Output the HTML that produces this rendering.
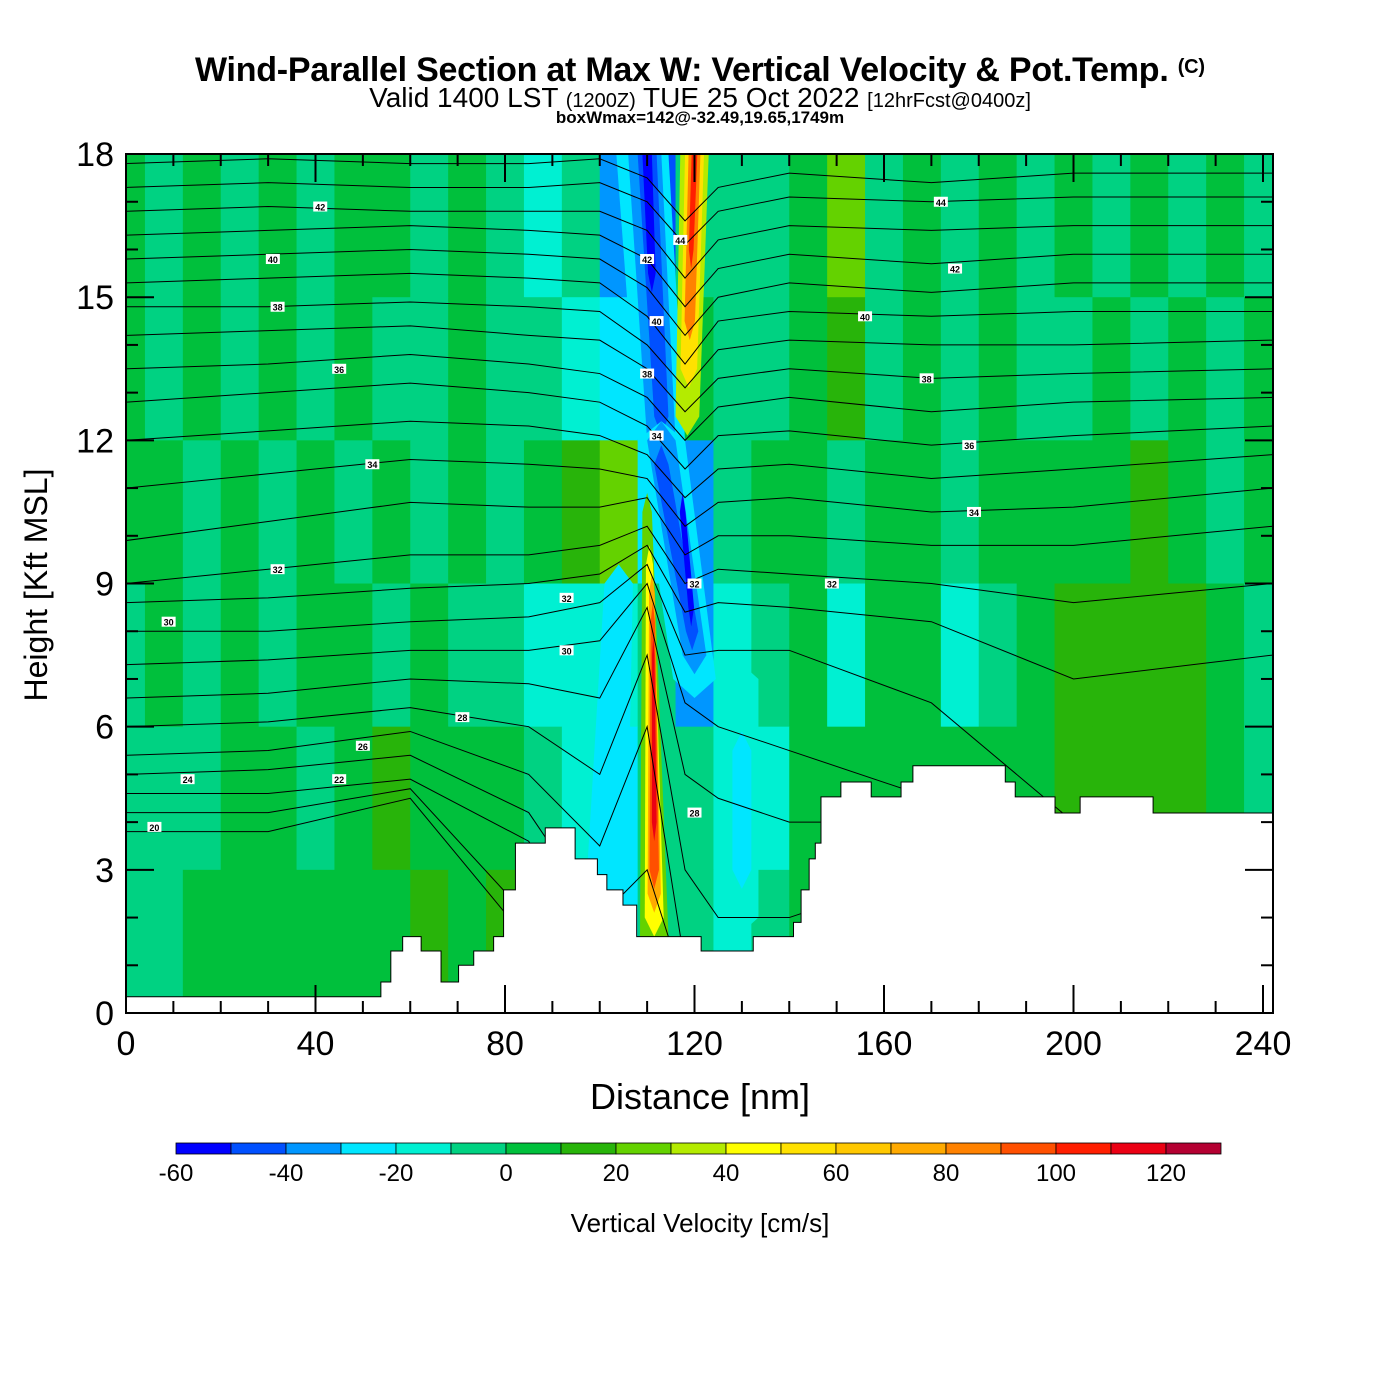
<!DOCTYPE html>
<html><head><meta charset="utf-8"><style>
html,body{margin:0;padding:0;background:#fff;}
svg{display:block;font-family:"Liberation Sans",Arial,sans-serif;}
</style></head><body>
<svg id="chart" width="1400" height="1400" viewBox="0 0 1400 1400">
<defs><clipPath id="plotclip"><rect x="126" y="154" width="1147" height="859"/></clipPath></defs>
<text x="700" y="81" text-anchor="middle" font-size="34" font-weight="bold" textLength="1010">Wind-Parallel Section at Max W: Vertical Velocity &amp; Pot.Temp. <tspan font-size="20" dy="-8">(C)</tspan></text>
<text x="700" y="107" text-anchor="middle" font-size="28">Valid 1400 LST <tspan font-size="20">(1200Z)</tspan> TUE 25 Oct 2022 <tspan font-size="20">[12hrFcst@0400z]</tspan></text>
<text x="700" y="123" text-anchor="middle" font-size="17" font-weight="bold">boxWmax=142@-32.49,19.65,1749m</text>
<g id="field" clip-path="url(#plotclip)"></g>
<g id="contours" clip-path="url(#plotclip)"></g>
<g id="terrain" clip-path="url(#plotclip)"></g>
<g id="clabels"></g>
<g id="axes"></g>
<text x="700" y="1109" text-anchor="middle" font-size="36">Distance [nm]</text>
<text transform="translate(47,585) rotate(-90)" text-anchor="middle" font-size="32">Height [Kft MSL]</text>
<g id="colorbar"></g>
<text x="700" y="1232" text-anchor="middle" font-size="26">Vertical Velocity [cm/s]</text>
</svg>
<script>
// ---- data ----
const levelValues=[-60,-50,-40,-30,-20,-10,0,10,20,30,40,50,60,70,80,90,100,110,120];
const levelColors=["#0000ff","#0050ff","#0096ff","#00e6ff","#00f0d2","#00d282","#00c03c","#28b40a","#64d200","#b4eb00","#ffff00","#ffe100","#ffc800","#ffaa00","#ff8200","#ff5000","#ff1e00","#eb0014","#b40032"];
const colorbarLabels=[-60,-40,-20,0,20,40,60,80,100,120];
const gridColCenters=[0,8,16,24,32,40,48,56,64,72,80,88,96,104,112,120,128,136,144,152,160,168,176,184,192,200,208,216,224,232,240];
const gridRowTops=[18,15,12,9,6,3];
const row0=[6,5,6,5,6,5,6,6,5,6,5,4,5,2,1,5,5,5,6,8,5,6,5,6,5,6,5,6,5,6,5];
const row1=[6,5,6,5,6,5,6,5,5,6,5,5,4,3,2,6,5,5,6,7,5,6,5,6,5,5,6,5,6,5,6];
const row2=[6,6,5,6,5,6,5,6,5,6,5,6,7,8,3,2,5,6,6,5,6,6,5,6,6,6,6,7,6,5,6];
const row3=[5,6,5,6,5,6,6,5,6,5,5,4,4,4,5,2,4,5,6,4,6,6,4,5,6,7,7,7,7,6,5];
const row4=[5,5,5,6,6,5,6,7,6,6,6,5,4,3,5,5,4,4,6,6,6,6,6,6,6,7,7,7,7,6,5];
const row5=[5,5,6,6,6,6,6,6,7,6,7,5,4,3,5,5,4,5,6,6,6,6,6,6,6,6,6,6,6,6,6];
const gridRows=[row0,row1,row2,row3,row4,row5];
// streak overlays
const streakLevel=[3,4,3,3,2,1,0,3,2,1,0,8,10,13,15,17,9,11,14,16];
const streakHBot=[1.6,2.0,3.0,12,12,12.5,15.5,7,7.5,8,8.5,1.6,2.0,2.5,3.0,4.0,12.5,13.5,14.5,16];
const streakHTop=[9,7,5.5,18,18,18,18,12,12,11.5,10.5,10.5,9.4,8.8,8.2,7.5,18,18,18,18];
const streakXBot=[101,129,130,113,113,113,111,120,120,119.5,119.3,111.5,111.5,111.5,111.5,111.5,118.5,118.8,119,119.3];
const streakXTop=[104,129,130,109,109.5,110,110,113,113,113,117.5,110,110.5,111,111.2,111.3,120,120,120,120];
const streakWBot=[9,9,4,10,6,3,1.6,9,5,2.6,1.2,6,4,2.8,2,1,5,3.5,2.2,1];
const streakWTop=[6,9,4,11,7,4,2,10,6,3,1.2,2,1.5,1.2,0.9,0.5,6,4,2.5,1.2];
// terrain (nm start, height kft)
const terrainX=[0,53.8,55.9,58.4,62.3,66.5,70.2,73.4,77.6,79.7,82.2,88.5,94.8,99.5,101.5,104.9,107.8,110.4,121.4,132.4,140.9,142.5,144.2,145.5,146.7,148.4,150.9,157.3,163.6,166.1,174.2,185.6,187.7,196.1,201.4,216.8,242];
const terrainH=[0.34,0.65,1.3,1.6,1.3,0.65,1.0,1.3,1.6,2.58,3.56,3.88,3.23,2.9,2.58,2.26,1.6,1.6,1.3,1.6,1.9,2.58,3.23,3.56,4.53,4.53,4.84,4.53,4.84,5.18,5.18,4.84,4.53,4.19,4.53,4.19,4.53];
// theta contours
const thetaNodes=[0,30,60,85,100,110,118,125,140,170,200,242];
const thetaValues=[45,44,43,42,41,40,39,38,37,36,35,34,33,32,31,30,29,28,27,26,25,24,23,22];
const thetaH45=[17.8,17.9,17.8,17.8,17.9,17.5,16.6,17.3,17.6,17.4,17.6,17.6];
const thetaH44=[17.3,17.4,17.3,17.3,17.4,17.0,16.1,16.8,17.1,17.0,17.1,17.1];
const thetaH43=[16.8,16.9,16.8,16.8,16.8,16.4,15.4,16.2,16.5,16.4,16.5,16.5];
const thetaH42=[16.3,16.4,16.5,16.4,16.3,15.8,14.8,15.6,15.9,15.7,15.9,15.9];
const thetaH41=[15.8,15.9,16.0,15.9,15.8,15.2,14.2,15.0,15.3,15.1,15.3,15.3];
const thetaH40=[15.3,15.4,15.5,15.4,15.3,14.6,13.6,14.5,14.7,14.6,14.7,14.7];
const thetaH39=[14.8,14.8,14.9,14.8,14.7,14.0,13.1,13.9,14.1,14.0,14.0,14.1];
const thetaH38=[14.2,14.3,14.4,14.2,14.1,13.5,12.6,13.3,13.5,13.3,13.4,13.5];
const thetaH37=[13.5,13.6,13.8,13.6,13.4,12.9,12.0,12.7,12.9,12.6,12.8,12.9];
const thetaH36=[12.8,13.0,13.2,13.0,12.8,12.3,11.4,12.1,12.2,11.9,12.1,12.3];
const thetaH35=[12.0,12.2,12.4,12.3,12.1,11.7,10.8,11.4,11.5,11.2,11.4,11.7];
const thetaH34=[11.0,11.3,11.6,11.5,11.4,11.2,10.2,10.7,10.8,10.5,10.6,11.0];
const thetaH33=[9.9,10.3,10.7,10.6,10.6,10.8,9.6,10.0,10.0,9.8,9.8,10.2];
const thetaH32=[9.0,9.3,9.6,9.6,9.8,10.2,9.0,9.3,9.2,9.0,8.6,9.0];
const thetaH31=[8.6,8.7,8.9,9.0,9.2,9.8,8.4,8.6,8.5,8.2,7.0,7.5];
const thetaH30=[8.0,8.0,8.2,8.3,8.6,9.4,7.5,7.6,7.6,6.5,4.0,4.0];
const thetaH29=[7.3,7.4,7.6,7.6,7.8,9.0,6.5,6.0,5.5,4.5,3.5,3.5];
const thetaH28=[6.6,6.7,7.0,6.9,6.6,8.5,5.0,4.5,4.0,4.0,3.5,3.5];
const thetaH27=[6.0,6.1,6.4,6.0,5.0,7.5,3.0,2.0,2.0,3.0,3.0,3.0];
const thetaH26=[5.4,5.5,5.9,5.0,3.5,6.0,1.0,1.0,1.0,1.0,1.0,1.0];
const thetaH25=[5.0,5.1,5.4,4.2,2.0,3.0,0.5,0.5,0.5,0.5,0.5,0.5];
const thetaH24=[4.6,4.6,4.9,3.6,1.0,1.0,0.5,0.5,0.5,0.5,0.5,0.5];
const thetaH23=[4.2,4.2,4.7,2.0,0.5,0.5,0.5,0.5,0.5,0.5,0.5,0.5];
const thetaH22=[3.8,3.8,4.5,1.5,0.5,0.5,0.5,0.5,0.5,0.5,0.5,0.5];
const thetaHeights=[thetaH45,thetaH44,thetaH43,thetaH42,thetaH41,thetaH40,thetaH39,thetaH38,thetaH37,thetaH36,thetaH35,thetaH34,thetaH33,thetaH32,thetaH31,thetaH30,thetaH29,thetaH28,thetaH27,thetaH26,thetaH25,thetaH24,thetaH23,thetaH22];
const labelText=["42","40","38","36","34","32","30","28","26","24","22","20","44","42","40","38","36","34","32","32","30","44","42","40","38","34","32","28"];
const labelX=[41,31,32,45,52,32,9,71,50,13,45,6,172,175,156,169,178,179,149,93,93,117,110,112,110,112,120,120];
const labelH=[16.9,15.8,14.8,13.5,11.5,9.3,8.2,6.2,5.6,4.9,4.9,3.9,17.0,15.6,14.6,13.3,11.9,10.5,9.0,8.7,7.6,16.2,15.8,14.5,13.4,12.1,9.0,4.2];
// ---- scales ----
const X=nm=>126+nm*4.7375;
const Y=h=>1013-h*47.72;
const NS="http://www.w3.org/2000/svg";
function mk(tag,parent){const e=document.createElementNS(NS,tag);parent.appendChild(e);return e;}
// field
const field=document.getElementById('field');
const bg=mk('rect',field);


bg.setAttribute('x',126);bg.setAttribute('y',154);bg.setAttribute('width',1147);bg.setAttribute('height',859);bg.setAttribute('fill',levelColors[5]);
gridRows.forEach((row,ri)=>{
  row.forEach((lv,ci)=>{
    const r=mk('rect',field);
    
    
    const x0=X(gridColCenters[ci]-4),x1=X(gridColCenters[ci]+4);
    const y0=Y(gridRowTops[ri]),y1=Y(gridRowTops[ri]-3);
    r.setAttribute('x',x0);r.setAttribute('y',y0);r.setAttribute('width',x1-x0+0.5);r.setAttribute('height',y1-y0+0.5);
    r.setAttribute('fill',levelColors[lv]);
  });
});
streakLevel.forEach((lv,i)=>{
  const p=mk('polygon',field);
  
  
  const xb=streakXBot[i],xt=streakXTop[i],wb=streakWBot[i]/2,wt=streakWTop[i]/2;
  const hb=streakHBot[i],ht=streakHTop[i];
  const pts=[[X(xb-wb),Y(hb)],[X(xb),Y(hb-0.4)],[X(xb+wb),Y(hb)],[X(xt+wt),Y(ht)],[X(xt),Y(ht+0.4)],[X(xt-wt),Y(ht)]];
  p.setAttribute('points',pts.map(q=>q.join(',')).join(' '));
  p.setAttribute('fill',levelColors[lv]);
});
// contours
const cg=document.getElementById('contours');
thetaValues.forEach((th,i)=>{
  const pl=mk('polyline',cg);
  
  
  pl.setAttribute('points',thetaNodes.map((n,j)=>X(n)+','+Y(thetaHeights[i][j])).join(' '));
  pl.setAttribute('fill','none');pl.setAttribute('stroke','#000');pl.setAttribute('stroke-width','1');
});
// terrain
const tg=document.getElementById('terrain');
let d='M'+X(0)+','+Y(0);
terrainX.forEach((n,i)=>{
  const nx=i<terrainX.length-1?terrainX[i+1]:243;
  d+=' L'+X(n)+','+Y(terrainH[i])+' L'+X(nx)+','+Y(terrainH[i]);
});
d+=' L'+X(243)+','+Y(0)+' Z';
const tp=mk('path',tg);


tp.setAttribute('d',d);tp.setAttribute('fill','#fff');tp.setAttribute('stroke','#000');tp.setAttribute('stroke-width','1');
// contour labels
const lg=document.getElementById('clabels');
labelText.forEach((t,i)=>{
  const g=mk('g',lg);
  
  
  const r=mk('rect',g);
  r.setAttribute('x',X(labelX[i])-7);r.setAttribute('y',Y(labelH[i])-5);r.setAttribute('width',14);r.setAttribute('height',10);r.setAttribute('fill','#fff');
  const tx=mk('text',g);
  tx.setAttribute('x',X(labelX[i]));tx.setAttribute('y',Y(labelH[i])+4);tx.setAttribute('text-anchor','middle');tx.setAttribute('font-size','9');tx.setAttribute('font-weight','bold');
  tx.textContent=t;
});
// axes
const ax=document.getElementById('axes');
function line(x1,y1,x2,y2,w,name){const l=mk('line',ax);
  
  
  l.setAttribute('x1',x1);l.setAttribute('y1',y1);l.setAttribute('x2',x2);l.setAttribute('y2',y2);l.setAttribute('stroke','#000');l.setAttribute('stroke-width',w);return l;}
const fr=mk('rect',ax);


fr.setAttribute('x',126);fr.setAttribute('y',154);fr.setAttribute('width',1147);fr.setAttribute('height',859);fr.setAttribute('fill','none');fr.setAttribute('stroke','#000');fr.setAttribute('stroke-width','2');
const xTickVals=[0,40,80,120,160,200,240];
for(let v=0;v<=240;v+=10){
  const major=v%40===0,len=major?28:12;
  line(X(v),1013,X(v),1013-len,2,'x-tick');
  line(X(v),154,X(v),154+len,2,'x-tick-top');
}
xTickVals.forEach(v=>{const t=mk('text',ax);
  
  
  t.setAttribute('x',X(v));t.setAttribute('y',1055);t.setAttribute('text-anchor','middle');t.setAttribute('font-size','34');t.textContent=v;});
const yTickVals=[0,3,6,9,12,15,18];
for(let v=0;v<=18;v++){
  const major=v%3===0,len=major?28:12;
  line(126,Y(v),126+len,Y(v),2,'y-tick');
  line(1273,Y(v),1273-len,Y(v),2,'y-tick-right');
}
yTickVals.forEach(v=>{const t=mk('text',ax);
  
  
  t.setAttribute('x',114);t.setAttribute('y',Y(v)+12);t.setAttribute('text-anchor','end');t.setAttribute('font-size','34');t.textContent=v;});
// colorbar
const cb=document.getElementById('colorbar');
const cbX0=176,cbW=1045/levelColors.length;
levelColors.forEach((c,i)=>{const r=mk('rect',cb);
  
  
  r.setAttribute('x',cbX0+i*cbW);r.setAttribute('y',1143);r.setAttribute('width',cbW);r.setAttribute('height',11);r.setAttribute('fill',c);r.setAttribute('stroke','#000');r.setAttribute('stroke-width','0.8');});
colorbarLabels.forEach(v=>{const t=mk('text',cb);
  
  
  const i=levelValues.indexOf(v);
  t.setAttribute('x',cbX0+i*cbW);t.setAttribute('y',1181);t.setAttribute('text-anchor','middle');t.setAttribute('font-size','24');t.textContent=v;});
</script>
</body></html>
